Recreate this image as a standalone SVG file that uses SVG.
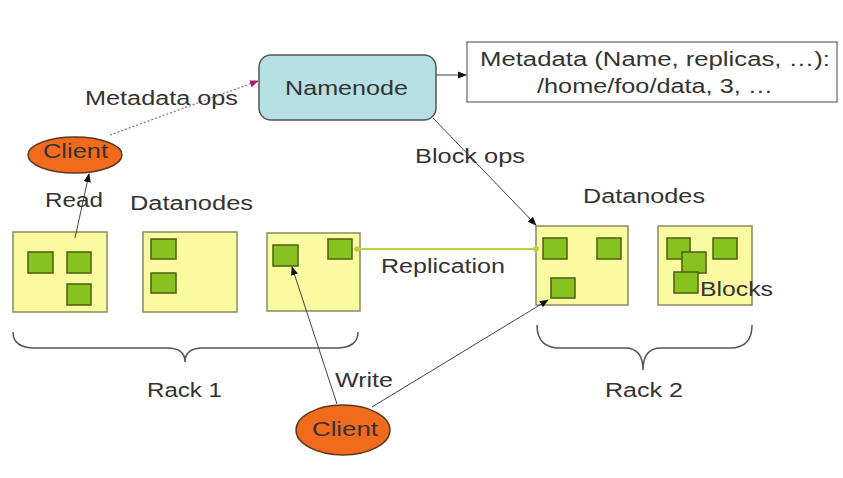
<svg xmlns="http://www.w3.org/2000/svg" width="843" height="478" viewBox="0 0 843 478">
<style>
text{font-family:"Liberation Sans",Arial,sans-serif;fill:#333;font-size:20px}
.dn{fill:#fafaa0;stroke:#8a8a60;stroke-width:1.5}
.blk{fill:#88c21e;stroke:#4d5e12;stroke-width:1.5}
.cl{fill:#f26a1c;stroke:#5a3a20;stroke-width:1.5}
.ln{fill:none;stroke:#444;stroke-width:1}
.br{fill:none;stroke:#555;stroke-width:1.5}
</style>
<defs>
<marker id="ah" viewBox="0 0 10 10" refX="9" refY="5" markerWidth="9" markerHeight="9" markerUnits="userSpaceOnUse" orient="auto"><path d="M0,1 L10,5 L0,9 Z" fill="#111"/></marker>
<marker id="ahp" viewBox="0 0 10 10" refX="9" refY="5" markerWidth="9" markerHeight="9" markerUnits="userSpaceOnUse" orient="auto"><path d="M0,1 L10,5 L0,9 Z" fill="#a0207a"/></marker>
<marker id="gd" viewBox="0 0 10 10" refX="5" refY="5" markerWidth="7" markerHeight="7" markerUnits="userSpaceOnUse"><circle cx="5" cy="5" r="4" fill="#b8d43a"/></marker>
</defs>
<rect width="843" height="478" fill="#fff"/>

<g id="namenode">
<rect x="259" y="55" width="177" height="65" rx="12" fill="#b6e0e3" stroke="#555" stroke-width="1.5"/>
<text x="285" y="95" textLength="123" lengthAdjust="spacingAndGlyphs">Namenode</text>
</g>

<g id="metadata">
<rect x="467" y="42" width="370" height="60" fill="#fff" stroke="#666" stroke-width="1.2"/>
<text x="480" y="66" textLength="350" lengthAdjust="spacingAndGlyphs">Metadata (Name, replicas, …):</text>
<text x="537" y="93" textLength="236" lengthAdjust="spacingAndGlyphs">/home/foo/data, 3, …</text>
</g>

<g id="client-read">
<ellipse cx="75" cy="155" rx="47" ry="18" class="cl"/>
<text x="43" y="158" textLength="65" lengthAdjust="spacingAndGlyphs">Client</text>
</g>

<g id="client-write">
<ellipse cx="343" cy="430" rx="47" ry="25" class="cl"/>
<text x="312" y="436" textLength="66" lengthAdjust="spacingAndGlyphs">Client</text>
</g>

<g id="rack1">
<text x="130" y="210" textLength="123" lengthAdjust="spacingAndGlyphs">Datanodes</text>
<g id="dn1">
<rect x="13" y="232" width="94" height="80" class="dn"/>
<rect x="28" y="252" width="25" height="21" class="blk"/>
<rect x="67" y="252" width="24" height="21" class="blk"/>
<rect x="67" y="284" width="24" height="21" class="blk"/>
</g>
<g id="dn2">
<rect x="143" y="232" width="94" height="80" class="dn"/>
<rect x="151" y="239" width="25" height="20" class="blk"/>
<rect x="151" y="273" width="25" height="20" class="blk"/>
</g>
<g id="dn3">
<rect x="267" y="233" width="93" height="78" class="dn"/>
<rect x="273" y="245" width="25" height="21" class="blk"/>
<rect x="328" y="239" width="24" height="20" class="blk"/>
</g>
<path class="br" d="M13,332 Q13,348 35,348 L167,348 Q185,348 185,362 Q185,348 203,348 L336,348 Q358,348 358,332"/>
<text x="147" y="397" textLength="75" lengthAdjust="spacingAndGlyphs">Rack 1</text>
</g>

<g id="rack2">
<text x="583" y="203" textLength="122" lengthAdjust="spacingAndGlyphs">Datanodes</text>
<g id="dn4">
<rect x="536" y="226" width="92" height="79" class="dn"/>
<rect x="543" y="238" width="24" height="21" class="blk"/>
<rect x="597" y="238" width="24" height="21" class="blk"/>
<rect x="551" y="278" width="24" height="20" class="blk"/>
</g>
<g id="dn5">
<rect x="658" y="226" width="94" height="79" class="dn"/>
<rect x="667" y="238" width="23" height="21" class="blk"/>
<rect x="713" y="238" width="24" height="21" class="blk"/>
<rect x="682" y="252" width="24" height="21" class="blk"/>
<rect x="674" y="272" width="24" height="21" class="blk"/>
<text x="700" y="296" textLength="73" lengthAdjust="spacingAndGlyphs">Blocks</text>
</g>
<path class="br" d="M537,325 Q537,348 560,348 L625,348 Q643,348 643,370 Q643,348 661,348 L730,348 Q752,348 752,325"/>
<text x="605" y="397" textLength="78" lengthAdjust="spacingAndGlyphs">Rack 2</text>
</g>

<g id="connectors">
<line x1="110" y1="135" x2="258" y2="81" stroke="#a0608a" stroke-width="1.2" stroke-dasharray="2,2" marker-end="url(#ahp)"/>
<line x1="436" y1="75" x2="466" y2="75" class="ln" marker-end="url(#ah)"/>
<line x1="433" y1="118" x2="536" y2="225" class="ln" marker-end="url(#ah)"/>
<line x1="75" y1="238" x2="89" y2="174" class="ln" marker-end="url(#ah)"/>
<line x1="357" y1="249" x2="536" y2="249" stroke="#b8d43a" stroke-width="2" marker-start="url(#gd)" marker-end="url(#gd)"/>
<line x1="337" y1="404" x2="292" y2="267" class="ln" marker-end="url(#ah)"/>
<line x1="372" y1="407" x2="548" y2="300" class="ln" marker-end="url(#ah)"/>
<text x="85" y="105" textLength="153" lengthAdjust="spacingAndGlyphs">Metadata ops</text>
<text x="415" y="163" textLength="110" lengthAdjust="spacingAndGlyphs">Block ops</text>
<text x="45" y="207" textLength="58" lengthAdjust="spacingAndGlyphs">Read</text>
<text x="381" y="273" textLength="124" lengthAdjust="spacingAndGlyphs">Replication</text>
<text x="335" y="387" textLength="58" lengthAdjust="spacingAndGlyphs">Write</text>
</g>
</svg>
